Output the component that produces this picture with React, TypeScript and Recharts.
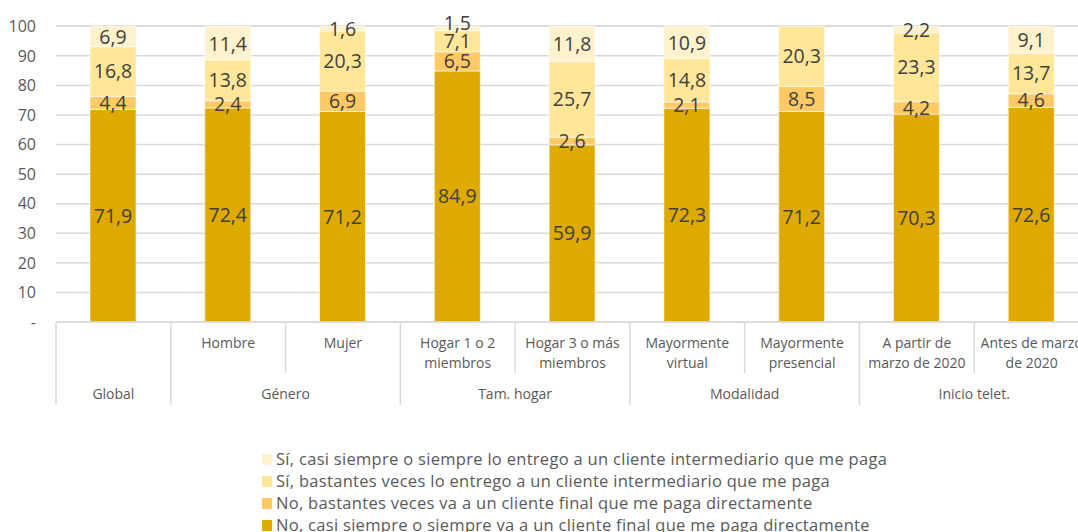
import React from 'react';
import { BarChart, Bar, XAxis, YAxis, CartesianGrid, LabelList, Legend } from 'recharts';

const categories = [
  '',
  'Hombre',
  'Mujer',
  'Hogar 1 o 2\nmiembros',
  'Hogar 3 o más\nmiembros',
  'Mayormente\nvirtual',
  'Mayormente\npresencial',
  'A partir de\nmarzo de 2020',
  'Antes de marzo\nde 2020',
];
const groups = ['Global', 'Género', 'Género', 'Tam. hogar', 'Tam. hogar', 'Modalidad', 'Modalidad', 'Inicio telet.', 'Inicio telet.'];

const noCasiSiempre = [71.9, 72.4, 71.2, 84.9, 59.9, 72.3, 71.2, 70.3, 72.6];
const noBastantes = [4.4, 2.4, 6.9, 6.5, 2.6, 2.1, 8.5, 4.2, 4.6];
const siBastantes = [16.8, 13.8, 20.3, 7.1, 25.7, 14.8, 20.3, 23.3, 13.7];
const siCasiSiempre = [6.9, 11.4, 1.6, 1.5, 11.8, 10.9, 0, 2.2, 9.1];

const yTicks = [0, 10, 20, 30, 40, 50, 60, 70, 80, 90, 100];

const series = [
  { key: 'noCasiSiempre', name: 'No, casi siempre o siempre va a un cliente final que me paga directamente', color: '#DEA900' },
  { key: 'noBastantes', name: 'No, bastantes veces va a un cliente final que me paga directamente', color: '#FFC966' },
  { key: 'siBastantes', name: 'Sí, bastantes veces lo entrego a un cliente intermediario que me paga', color: '#FFE699' },
  { key: 'siCasiSiempre', name: 'Sí, casi siempre o siempre lo entrego a un cliente intermediario que me paga', color: '#FFF2CC' },
];

const data = categories.map((label, i) => ({
  label,
  noCasiSiempre: noCasiSiempre[i],
  noBastantes: noBastantes[i],
  siBastantes: siBastantes[i],
  siCasiSiempre: siCasiSiempre[i],
}));

const CHART_W = 1100;
const CHART_H = 532;
const MARGIN = { top: 26, right: 11, bottom: 0, left: 0 };
const YAXIS_W = 56;
const BAND = (CHART_W - MARGIN.left - MARGIN.right - YAXIS_W) / categories.length;
const FONT = '"Open Sans", sans-serif';
const LABEL_SIZE = 19.5;

const fmt = (v: any) => (v ? Number(v).toFixed(1).replace('.', ',') : '');

// top segment label: nudged up when it would sit on the label below it
function TopLabel(props: any) {
  const { x, y, width, height, value, index } = props;
  if (!value) return null;
  let cy = y + height / 2;
  const perUnit = height / value;
  const below = siBastantes[index] * perUnit;
  const belowCy = y + height + below / 2;
  if (belowCy - cy < 19) cy = belowCy - 19;
  return (
    <text x={x + width / 2} y={cy} textAnchor="middle" dominantBaseline="central" fill="#404040" fontSize={LABEL_SIZE} fontFamily={FONT}>
      {fmt(value)}
    </text>
  );
}

function CategoryTick(props: any) {
  const { x, y, payload } = props;
  const i = payload.index;
  const lines = String(categories[i]).split('\n').filter(Boolean);
  const sameNext = i + 1 < groups.length && groups[i + 1] === groups[i];
  const firstOfGroup = i === 0 || groups[i - 1] !== groups[i];
  let size = 1;
  while (i + size < groups.length && groups[i + size] === groups[i]) size++;
  const right = x + BAND / 2;
  const left = x - BAND / 2;
  return (
    <g>
      {i === 0 && <line x1={left} x2={left} y1={y} y2={y + 83} stroke="#d9d9d9" strokeWidth={1.5} />}
      <line x1={right} x2={right} y1={y} y2={y + (sameNext ? 51 : 83)} stroke="#d9d9d9" strokeWidth={1.5} />
      {lines.map((ln, k) => (
        <text key={k} x={x} y={y + 26 + k * 20} textAnchor="middle" fill="#595959" fontSize={14} fontFamily={FONT}>
          {ln}
        </text>
      ))}
      {firstOfGroup && (
        <text x={x + ((size - 1) * BAND) / 2} y={y + 77} textAnchor="middle" fill="#595959" fontSize={14} fontFamily={FONT}>
          {groups[i]}
        </text>
      )}
    </g>
  );
}

function LegendContent() {
  const items = [...series].reverse();
  return (
    <div style={{ paddingLeft: 262, paddingTop: 6, height: 84, fontFamily: FONT }}>
      {items.map((s) => (
        <div key={s.key} style={{ display: 'flex', alignItems: 'center', height: 21.8, fontSize: 16.5, letterSpacing: 0.3, color: '#595959', whiteSpace: 'nowrap' }}>
          <span style={{ display: 'inline-block', width: 10, height: 11, background: s.color, marginRight: 4, marginTop: 2 }} />
          {s.name}
        </div>
      ))}
    </div>
  );
}

export default function App() {
  return (
    <div style={{ position: 'absolute', left: 0, top: 0, width: 1078, height: 532, overflow: 'hidden', background: '#fff', fontFamily: FONT }}>
      <BarChart width={CHART_W} height={CHART_H} data={data} margin={MARGIN} barSize={46}>
        <CartesianGrid vertical={false} stroke="#d9d9d9" strokeWidth={1.5} />
        <XAxis
          dataKey="label"
          interval={0}
          tickLine={false}
          tickSize={0}
          tickMargin={0}
          axisLine={{ stroke: '#d9d9d9', strokeWidth: 1.5 }}
          height={120}
          tick={<CategoryTick />}
        />
        <YAxis
          width={YAXIS_W}
          domain={[0, 100]}
          ticks={yTicks}
          interval={0}
          axisLine={false}
          tickLine={false}
          tickMargin={14}
          tick={{ fill: '#595959', fontSize: 16, fontFamily: FONT }}
          tickFormatter={(v: number) => (v === 0 ? '-' : String(v))}
        />
        {series.map((s) => (
          <Bar key={s.key} dataKey={s.key} name={s.name} stackId="a" fill={s.color} stroke="#ffffff" strokeWidth={0.6} isAnimationActive={false}>
            {s.key === 'siCasiSiempre' ? (
              <LabelList dataKey={s.key} content={<TopLabel />} />
            ) : (
              <LabelList dataKey={s.key} position="center" formatter={fmt} fill="#404040" fontSize={LABEL_SIZE} fontFamily={FONT} />
            )}
          </Bar>
        ))}
        <Legend layout="horizontal" verticalAlign="bottom" align="left" content={<LegendContent />} />
      </BarChart>
    </div>
  );
}
